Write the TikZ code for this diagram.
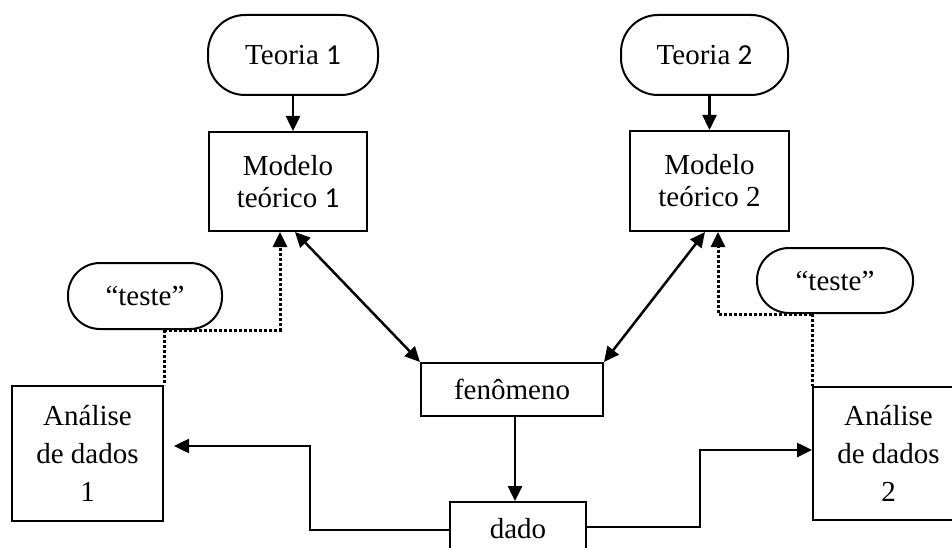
\documentclass[tikz,border=0pt]{standalone}
\usepackage{fontspec}
\setmainfont{Liberation Serif}
\newfontfamily\calib{Carlito}
\usetikzlibrary{arrows.meta,calc}
\begin{document}
\begin{tikzpicture}[x=1pt,y=-1pt,
  box/.style={draw, line width=2pt, inner sep=0pt, align=center, font=\fontsize{29}{32}\selectfont},
  anbox/.style={box, font=\fontsize{29}{38}\selectfont},
  pill/.style={box, rounded corners=37pt},
  tip/.tip={Triangle[length=15pt,width=14pt]},
  conn/.style={line width=2.5pt, -tip},
  dual/.style={line width=2.5pt, tip-tip},
  dots/.style={line width=3pt, dash pattern=on 3pt off 2pt},
  dotarrow/.style={dots, -tip}
]
\useasboundingbox (0,0) rectangle (952,548);
\clip (0,0) rectangle (952,548);

\node[pill, minimum width=170pt, minimum height=80pt] (T1) at (293,55) {Teoria {\calib 1}};
\node[pill, minimum width=167pt, minimum height=80pt] (T2) at (704.5,55) {Teoria {\calib 2}};
\node[box, minimum width=158pt, minimum height=99pt] (M1) at (288,181.5) {Modelo\\te\'orico {\calib 1}};
\node[box, minimum width=159pt, minimum height=100pt] (M2) at (709.5,181) {Modelo\\te\'orico 2};
\node[pill, rounded corners=32pt, minimum width=154pt, minimum height=66pt] (te1) at (145,296) {``teste''};
\node[pill, rounded corners=32pt, minimum width=156pt, minimum height=65pt] (te2) at (835,280.5) {``teste''};
\node[box, minimum width=182pt, minimum height=53pt] (fen) at (512,389.5) {fen\^omeno};
\node[box, minimum width=136pt, minimum height=53pt] (dado) at (518,528.5) {dado};
\node[anbox, minimum width=151pt, minimum height=135pt] (A1) at (87.5,453.5) {An\'alise\\de dados\\1};
\node[anbox, minimum width=151pt, minimum height=133pt] (A2) at (888.5,453.5) {An\'alise\\de dados\\2};

\draw[conn] (T1.south) -- (T1.south |- M1.north);
\draw[conn] (M2.north |- T2.south) -- (M2.north);
\draw[dual] ($(M1.south)+(7,0)$) -- (fen.north west);
\draw[dual] ($(M2.south)+(-4.5,0)$) -- (fen.north east);

\coordinate (d1) at ($(M1.south)+(-8,0)$);
\coordinate (d2) at ($(M2.south)+(8.5,0)$);
\draw[dots] (te1.south -| A1.east) -- (A1.north east);
\draw[dotarrow] (te1.south -| A1.east) -- (d1 |- te1.south) -- (d1);
\draw[dots] (te2.south -| A2.west) -- (A2.north west);
\draw[dotarrow] (te2.south -| A2.west) -- (d2 |- te2.south) -- (d2);

\coordinate (fd) at ($(fen.south)+(3,0)$);
\draw[conn] (fd) -- (fd |- dado.north);
\coordinate (a1in) at ($(A1.east)+(10,-7.5)$);
\coordinate (a2in) at ($(A2.west)+(0,-3.5)$);
\draw[conn] ($(dado.west)+(0,1.5)$) -- ++(-139,0) |- (a1in);
\draw[conn] ($(dado.east)+(0,-1.5)$) -- ++(113,0) |- (a2in);
\end{tikzpicture}
\end{document}
